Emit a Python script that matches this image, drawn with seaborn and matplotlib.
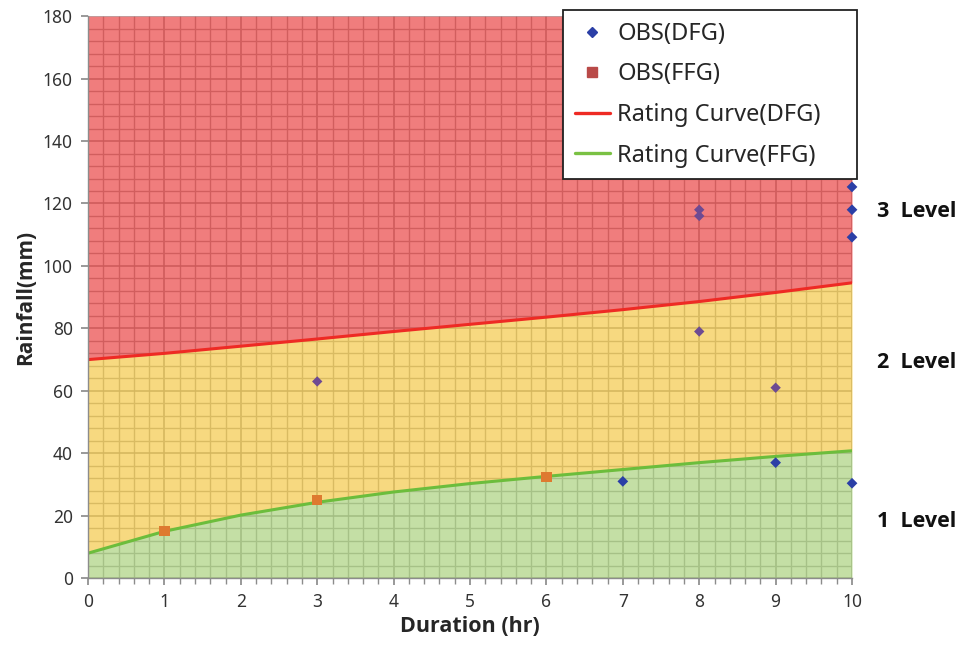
import numpy as np
import pandas as pd
import matplotlib
matplotlib.use("Agg")
import matplotlib.pyplot as plt
from matplotlib.ticker import MultipleLocator
from matplotlib.lines import Line2D
import seaborn as sns

# Rating curves (rainfall in mm per duration in hr)
duration = [0, 1, 2, 3, 4, 5, 6, 7, 8, 9, 10]
dfg_curve = [70, 72, 74.3, 76.6, 79, 81.3, 83.6, 86, 88.6, 91.5, 94.6]
ffg_curve = [8, 15, 20.2, 24.3, 27.6, 30.3, 32.6, 34.8, 37, 39, 40.8]

# Observations
obs_dfg_x = [3, 7, 8, 8, 8, 9, 9, 10, 10, 10, 10]
obs_dfg_y = [63, 31, 118, 116, 79, 61, 37, 125.3, 118, 109.2, 30.4]
obs_ffg_x = [1, 3, 6]
obs_ffg_y = [15, 25, 32.5]

level_labels = ["3  Level", "2  Level", "1  Level"]
level_y = [117.5, 69, 18]

sns.set_theme(style="white")
plt.rcParams["font.family"] = ["Noto Sans", "DejaVu Sans"]
BOLD = ["Open Sans", "DejaVu Sans"]

curves = pd.DataFrame({"Duration": duration, "DFG": dfg_curve, "FFG": ffg_curve})
obs_dfg = pd.DataFrame({"Duration": obs_dfg_x, "Rainfall": obs_dfg_y})
obs_ffg = pd.DataFrame({"Duration": obs_ffg_x, "Rainfall": obs_ffg_y})

fig = plt.figure(figsize=(9.61, 6.46), dpi=100)
ax = fig.add_axes([0.0916, 0.105, 0.795, 0.87])

# grid underneath translucent zones
ax.set_axisbelow(True)
ax.xaxis.set_major_locator(MultipleLocator(1))
ax.xaxis.set_minor_locator(MultipleLocator(0.2))
ax.yaxis.set_major_locator(MultipleLocator(20))
ax.yaxis.set_minor_locator(MultipleLocator(4))
ax.grid(which="major", color="#a6a6a6", lw=1.1)
ax.grid(which="minor", color="#b4b4b4", lw=1.0)

x = curves["Duration"]
ax.fill_between(x, 0, curves["FFG"], color="#9ecb69", alpha=0.6, lw=0, zorder=1)
ax.fill_between(x, curves["FFG"], curves["DFG"], color="#f2c02c", alpha=0.6, lw=0, zorder=1)
ax.fill_between(x, curves["DFG"], 180, color="#e62626", alpha=0.6, lw=0, zorder=1)

# observations: the ones inside the upper zones look tinted in the original
above = obs_dfg["Rainfall"] > np.interp(obs_dfg["Duration"], duration, ffg_curve)
inside = above & (obs_dfg["Duration"] < max(duration))
tinted = obs_dfg[inside]
plain = obs_dfg[~inside]
sns.scatterplot(data=tinted, x="Duration", y="Rainfall", marker="D", s=28,
                color="#6e4a92", edgecolor="none", zorder=5, ax=ax)
sns.scatterplot(data=plain, x="Duration", y="Rainfall", marker="D", s=30,
                color="#2b3fa6", edgecolor="none", zorder=5, ax=ax, clip_on=False)

sns.lineplot(data=curves, x="Duration", y="DFG", color="#ee2a24", lw=2.2, zorder=4, ax=ax)
sns.lineplot(data=curves, x="Duration", y="FFG", color="#6cbd3c", lw=2.2, zorder=4, ax=ax)

sns.scatterplot(data=obs_ffg, x="Duration", y="Rainfall", marker="s", s=55,
                color="#de7a30", edgecolor="none", zorder=5, ax=ax)

ax.set_xlim(0, 10)
ax.set_ylim(0, 180)

for s in ["top", "right"]:
    ax.spines[s].set_visible(False)
for s in ["left", "bottom"]:
    ax.spines[s].set_color("#8c8c8c")
    ax.spines[s].set_linewidth(1)
    ax.spines[s].set_zorder(6)

ax.tick_params(axis="both", which="major", direction="out", length=5, color="#8c8c8c",
               labelsize=12.5, labelcolor="#333333", left=True, bottom=True, pad=6)
ax.tick_params(axis="x", which="minor", direction="out", length=4, color="#8c8c8c", bottom=True)
ax.tick_params(axis="y", which="minor", length=0)

ax.set_xlabel("Duration (hr)", fontsize=15.5, fontweight="bold", family=BOLD, labelpad=3)
ax.set_ylabel("Rainfall(mm)", fontsize=15, fontweight="bold", family=BOLD, labelpad=5)

for lab, yv in zip(level_labels, level_y):
    ax.text(10.33, yv, lab, fontsize=15.5, fontweight="bold", family=BOLD,
            va="center", ha="left", color="#111111")

handles = [
    Line2D([], [], marker="D", ls="none", color="#2b3fa6", markersize=5.5),
    Line2D([], [], marker="s", ls="none", color="#b94a48", markersize=7.5),
    Line2D([], [], color="#ee2a24", lw=2.4),
    Line2D([], [], color="#7ac143", lw=2.4),
]
# trailing spaces leave the wide right margin of the original legend box
labels = ["OBS(DFG)", "OBS(FFG)", "Rating Curve(DFG)    ", "Rating Curve(FFG)"]
leg = ax.legend(handles, labels, loc="upper right", bbox_to_anchor=(1.0065, 1.0107),
                fontsize=17, frameon=True, fancybox=False, framealpha=1,
                edgecolor="#222222", borderpad=0.5, labelspacing=0.7,
                handlelength=1.5, handletextpad=0.3, borderaxespad=0)
leg.get_frame().set_linewidth(1.3)
leg.set_zorder(10)

fig.savefig("out.png", dpi=100)
